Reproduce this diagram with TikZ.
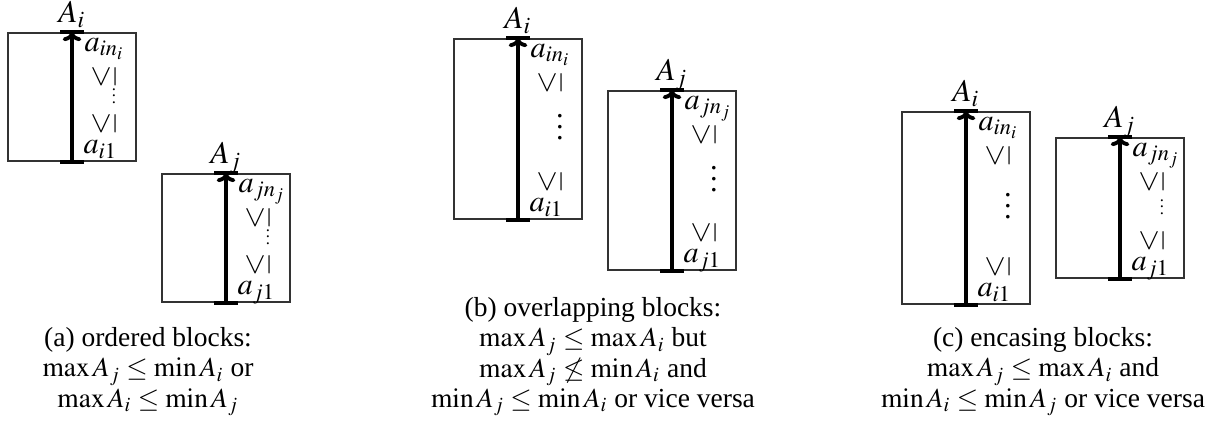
\documentclass[tikz,border=0pt]{standalone}
\usepackage{mathptmx}
\usepackage{fontspec}
\setmainfont{Liberation Serif}
\usepackage{graphicx}
\usetikzlibrary{arrows.meta}

\begin{document}
\begin{tikzpicture}
[x=0.3636pt,y=-0.3636pt,
  blockbox/.style={draw=black!80,line width=0.45pt,inner sep=0pt,minimum width=128*0.3636pt},%
  chainline/.style={-{To[length=3.2pt,width=6.8pt]},line width=1.4pt},%
  endbar/.style={-,line width=1.4pt},%
  textlabel/.style={inner sep=0pt,font=\fontsize{11}{13}\selectfont},%
  headlabel/.style={inner sep=0pt,anchor=base,font=\fontsize{11.5}{14}\selectfont},%
  captionnode/.style={inner sep=0pt,align=center,anchor=north,font=\fontsize{10}{11}\selectfont}]
\useasboundingbox (0,0) rectangle (1210,421);
%% blocks, chains and their labels
\foreach \bname/\bleft/\btop/\bbot/\bsub/\bdots in {ai-a/8/33/161/i/0.55,
  aj-a/162/174/302/j/0.55, ai-b/454/39/219/i/1, aj-b/608/91/270/j/1,
  ai-c/902/112/304/i/1, aj-c/1056/138/278/j/0.55} {
  \pgfmathsetmacro\bcx{\bleft+64}
  \pgfmathsetmacro\bcy{(\btop+\bbot)/2}
  \pgfmathsetmacro\bheight{(\bbot-\btop)*0.3636}
  \pgfmathsetmacro\bdotshift{11*\bdots}
  \node (\bname) at (\bcx,\bcy) [blockbox,minimum height=\bheight pt] {};
  \node (\bname-head) at ([shift={(0,-10)}]\bname.north) [headlabel] {$A_\bsub$};
  \node (\bname-max) at ([shift={(12,19)}]\bname.north) [textlabel,anchor=base west] {$a_{\bsub n_\bsub}$};
  \node (\bname-geq1) at ([shift={(32,44)}]\bname.north) [textlabel] {\rotatebox{90}{$\leq$}};
  \node (\bname-dots) at ([shift={(42,\bdotshift)}]\bname.center) [textlabel,anchor=base] {\scalebox{\bdots}{$\vdots$}};
  \node (\bname-geq2) at ([shift={(32,-38)}]\bname.south) [textlabel] {\rotatebox{90}{$\leq$}};
  \node (\bname-min) at ([shift={(11,-8)}]\bname.south) [textlabel,anchor=base west] {$a_{\bsub 1}$};
  \draw[chainline] (\bname.south) -- (\bname.north);
  \draw[endbar] ([xshift=-4.2pt]\bname.north) -- ([xshift=4.2pt]\bname.north);
  \draw[endbar] ([xshift=-4.2pt]\bname.south) -- ([xshift=4.2pt]\bname.south);
}
%% captions
\node (cap-a) at (148,327) [captionnode] {(a) ordered blocks:\\
  $\max A_j \leq \min A_i$ or\\ $\max A_i \leq \min A_j$};
\node (cap-b) at (593,297) [captionnode] {(b) overlapping blocks:\\
  $\max A_j \leq \max A_i$ but\\ $\max A_j \not\leq \min A_i$ and\\
  $\min A_j \leq \min A_i$ or vice versa};
\node (cap-c) at (1043,327) [captionnode] {(c) encasing blocks:\\
  $\max A_j \leq \max A_i$ and\\ $\min A_i \leq \min A_j$ or vice versa};
\end{tikzpicture}
\end{document}
